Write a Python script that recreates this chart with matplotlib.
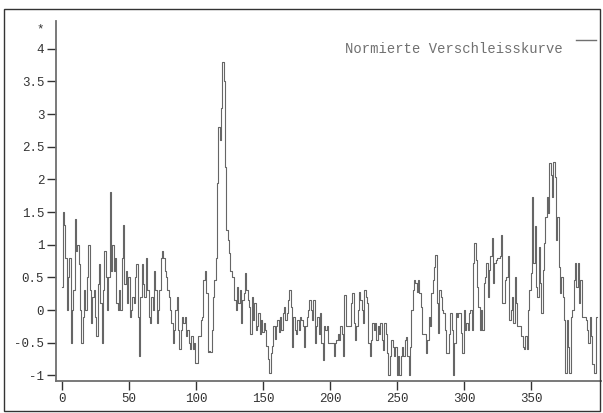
import numpy as np
import matplotlib
matplotlib.use("Agg")
import matplotlib.pyplot as plt
from matplotlib.lines import Line2D
from matplotlib.patches import Rectangle
from matplotlib.ticker import FormatStrFormatter

# normalised wear curve, one value per sample (0..399)
seg_a = [0.35, 1.5, 1.3, 0.8, 0.0, 0.5, 0.8, -0.5, 0.0, 0.3,
         1.4, 0.9, 1.0, 0.7, 0.0, -0.5, -0.1, 0.3, 0.0, 0.5,
         1.0, 0.3, -0.2, 0.2, 0.3, -0.1, -0.4, 0.4, 0.7, 0.1,
         -0.5, 0.3, 0.9, 0.5, 0.0, 0.5, 1.8, 0.6, 1.0, 0.6,
         0.8, 0.1, 0.0, 0.3, 0.0, 0.8, 1.3, 0.4, 0.6, 0.1,
         0.5, -0.1, 0.0, 0.2, 0.1, 0.5, 0.7, -0.1, -0.7, 0.2,
         0.7, 0.4, 0.2, 0.8, 0.3, -0.1, -0.2, 0.2, 0.0, 0.6,
         0.3, -0.2, 0.0, 0.3, 0.8, 0.9, 0.8, 0.6, 0.5, 0.3,
         0.2, 0.0, -0.2, -0.5, -0.3, 0.0, 0.2, -0.3, -0.6, -0.3,
         -0.1, -0.2, -0.1, -0.4, -0.3, -0.5, -0.6, -0.4, -0.6, -0.5]
seg_b = [-0.81, -0.81, -0.4, -0.4, -0.15, -0.1, 0.46, 0.6, 0.26, -0.64,
         -0.62, -0.64, -0.3, 0.2, 0.46, 0.8, 1.94, 2.8, 2.6, 3.1,
         3.8, 3.5, 2.19, 1.22, 1.07, 0.87, 0.6, 0.5, 0.5, 0.15,
         0.0, 0.36, 0.1, 0.3, -0.2, 0.15, 0.26, 0.56, 0.3, 0.15,
         0.05, -0.36, 0.2, -0.15, 0.1, -0.3, -0.25, -0.05, -0.36, -0.15,
         -0.34, -0.2, -0.3, -0.55, -0.75, -0.97, -0.66, -0.55, -0.25, -0.45,
         -0.25, -0.15, -0.34, -0.1, -0.3, -0.05, 0.05, -0.15, -0.05, 0.15]
seg_c = [0.3, 0.05, -0.56, -0.1, -0.3, -0.36, -0.15, -0.3, -0.1, -0.15,
         -0.25, -0.56, -0.25, -0.1, 0.0, 0.15, 0.0, -0.15, 0.15, -0.5,
         -0.25, -0.1, -0.36, -0.05, -0.5, -0.77, -0.25, -0.3, -0.25, -0.5,
         -0.5, -0.5, -0.5, -0.71, -0.5, -0.46, -0.36, -0.46, -0.25, -0.36,
         -0.71, 0.23, -0.25, -0.25, -0.25, -0.25, 0.1, 0.26, -0.2, -0.46,
         -0.25, 0.0, 0.28, 0.15, 0.0, -0.2, 0.3, 0.2, 0.1, -0.5,
         -0.71, -0.46, -0.2, -0.3, -0.2, -0.46, -0.25, -0.36, -0.2, -0.46,
         -0.61, -0.2, -0.36, -0.66, -1.0, -0.71, -0.46, -0.56, -0.71, -0.56,
         -1.0, -0.71, -1.0, -0.71, -0.56, -0.71, -0.46, -0.41, -0.71, -1.0,
         -0.56, 0.0, 0.3, 0.46, 0.41, 0.28, 0.46, 0.26, 0.05, -0.36,
         -0.36, -0.36, -0.66, -0.46, -0.1, -0.25, 0.26, 0.46, 0.66, 0.84]
seg_d = [0.1, -0.35, 0.3, 0.2, 0.0, -0.05, -0.3, -0.66, -0.66, -0.36,
         -0.05, -0.3, -1.0, -0.5, -0.05, -0.1, -0.05, -0.05, -0.35, -0.66,
         0.0, -0.3, -0.2, -0.3, -0.05, 0.0, -0.3, 0.72, 1.03, 0.77,
         0.36, 0.05, -0.3, 0.0, -0.3, 0.41, 0.51, 0.72, 0.2, 0.61,
         0.82, 1.1, 0.41, 0.72, 0.77, 0.8, 0.8, 0.82, 1.15, 0.1,
         0.1, 0.46, 0.51, 0.82, -0.15, 0.0, 0.2, -0.2, 0.51, 0.1,
         -0.25, -0.25, -0.25, -0.4, -0.56, -0.6, -0.4, -0.6, 0.0, 0.3,
         0.56, 1.73, 0.72, 1.28, 0.36, 0.2, 0.97, 0.41, -0.05, 0.61,
         1.02, 1.43, 1.73, 1.48, 2.25, 2.07, 1.73, 2.27, 2.04, 1.07,
         1.43, 0.66, 0.26, 0.51, 0.2, -0.15, -0.97, -0.15, -0.56, -0.97,
         -0.1, 0.0, 0.46, 0.72, 0.36, 0.72, 0.1, 0.46, -0.1, -0.1,
         -0.1, -0.15, -0.3, -0.5, -0.1, -0.4, -0.82, -0.97, -0.97, -0.1]
wear = np.array(seg_a + seg_b + seg_c + seg_d)
samples = np.arange(len(wear))

x_ticks = [0, 50, 100, 150, 200, 250, 300, 350]
y_ticks = [-1, -0.5, 0, 0.5, 1, 1.5, 2, 2.5, 3, 3.5, 4]
label = "Normierte Verschleisskurve"

mono = "Liberation Mono"
plt.rcParams["font.family"] = mono
plt.rcParams["axes.unicode_minus"] = False

W, H = 603, 413
fig = plt.figure(figsize=(W / 100, H / 100), dpi=100)
ax = fig.add_axes([56 / W, 1 - 381 / H, (601 - 56) / W, (381 - 21) / H])

# stepped trace, as the samples are held between readings
ax.plot(samples, wear, color="#666666", lw=0.8, drawstyle="steps-mid")

ax.set_xlim(-4.5, 402)
ax.set_ylim(-1.087, 4.426)
ax.set_xticks(x_ticks)
ax.set_yticks(y_ticks)
ax.yaxis.set_major_formatter(FormatStrFormatter("%g"))

for side in ("top", "right"):
    ax.spines[side].set_visible(False)
for side in ("left", "bottom"):
    ax.spines[side].set_color("#6e6e6e")
    ax.spines[side].set_linewidth(1.3)
ax.tick_params(length=6.5, width=1.0, color="#333333", pad=2,
               labelsize=9, labelcolor="#333333")

# axis end marker and the series label
fig.text(40 / W, 1 - 29 / H, "*", ha="center", va="center",
         fontsize=9, color="#333333")
fig.text(563 / W, 1 - 49 / H, label, ha="right", va="center",
         fontsize=10, color="#707070")
fig.add_artist(Line2D([576 / W, 596 / W], [1 - 40 / H, 1 - 40 / H],
                      color="#707070", lw=1.0))

# frame round the whole figure
fig.add_artist(Rectangle((4 / W, 1 - 411 / H), (600 - 4) / W, (411 - 9) / H,
                         fill=False, edgecolor="#333333", lw=1.0,
                         transform=fig.transFigure))

fig.savefig("out.png", dpi=100)
